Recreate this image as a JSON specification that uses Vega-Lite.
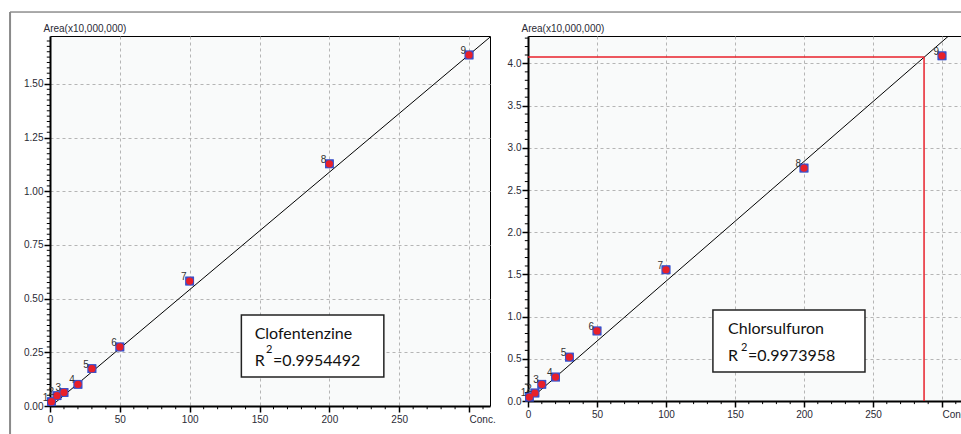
{
  "$schema": "https://vega.github.io/schema/vega-lite/v6.json",
  "padding": {"left": 8, "top": 10, "right": 0, "bottom": 0},
  "background": "white",
  "bounds": "flush",
  "spacing": 38,
  "datasets": {
    "clo": [
      {"n": "1", "conc": 1, "area": 0.02},
      {"n": "2", "conc": 5, "area": 0.048},
      {"n": "3", "conc": 10, "area": 0.063},
      {"n": "4", "conc": 20, "area": 0.101},
      {"n": "5", "conc": 30, "area": 0.174},
      {"n": "6", "conc": 50, "area": 0.275},
      {"n": "7", "conc": 100, "area": 0.582},
      {"n": "8", "conc": 200, "area": 1.128},
      {"n": "9", "conc": 300, "area": 1.635}
    ],
    "chl": [
      {"n": "1", "conc": 1, "area": 0.047},
      {"n": "2", "conc": 5, "area": 0.095},
      {"n": "3", "conc": 10, "area": 0.198},
      {"n": "4", "conc": 20, "area": 0.284},
      {"n": "5", "conc": 30, "area": 0.52},
      {"n": "6", "conc": 50, "area": 0.83},
      {"n": "7", "conc": 100, "area": 1.555},
      {"n": "8", "conc": 200, "area": 2.76},
      {"n": "9", "conc": 300, "area": 4.09}
    ],
    "cloLine": [{"conc": 0, "area": -0.005}, {"conc": 330, "area": 1.80}],
    "chlLine": [{"conc": 0, "area": 0.0}, {"conc": 330, "area": 4.683}],
    "xMinor": [{"v":10},{"v":20},{"v":30},{"v":40},{"v":60},{"v":70},{"v":80},{"v":90},{"v":110},{"v":120},{"v":130},{"v":140},{"v":160},{"v":170},{"v":180},{"v":190},{"v":210},{"v":220},{"v":230},{"v":240},{"v":260},{"v":270},{"v":280},{"v":290},{"v":310}],
    "yMinorL": [{"v":0.025},{"v":0.05},{"v":0.075},{"v":0.1},{"v":0.125},{"v":0.15},{"v":0.175},{"v":0.2},{"v":0.225},{"v":0.275},{"v":0.3},{"v":0.325},{"v":0.35},{"v":0.375},{"v":0.4},{"v":0.425},{"v":0.45},{"v":0.475},{"v":0.525},{"v":0.55},{"v":0.575},{"v":0.6},{"v":0.625},{"v":0.65},{"v":0.675},{"v":0.7},{"v":0.725},{"v":0.775},{"v":0.8},{"v":0.825},{"v":0.85},{"v":0.875},{"v":0.9},{"v":0.925},{"v":0.95},{"v":0.975},{"v":1.025},{"v":1.05},{"v":1.075},{"v":1.1},{"v":1.125},{"v":1.15},{"v":1.175},{"v":1.2},{"v":1.225},{"v":1.275},{"v":1.3},{"v":1.325},{"v":1.35},{"v":1.375},{"v":1.4},{"v":1.425},{"v":1.45},{"v":1.475},{"v":1.525},{"v":1.55},{"v":1.575},{"v":1.6},{"v":1.625},{"v":1.65},{"v":1.675},{"v":1.7}],
    "yMinorR": [{"v":0.1},{"v":0.2},{"v":0.3},{"v":0.4},{"v":0.6},{"v":0.7},{"v":0.8},{"v":0.9},{"v":1.1},{"v":1.2},{"v":1.3},{"v":1.4},{"v":1.6},{"v":1.7},{"v":1.8},{"v":1.9},{"v":2.1},{"v":2.2},{"v":2.3},{"v":2.4},{"v":2.6},{"v":2.7},{"v":2.8},{"v":2.9},{"v":3.1},{"v":3.2},{"v":3.3},{"v":3.4},{"v":3.6},{"v":3.7},{"v":3.8},{"v":3.9},{"v":4.1},{"v":4.2},{"v":4.3}],
    "one": [{}]
  },
  "config": {
    "view": {"fill": "#f9fafa", "stroke": "#000000", "strokeWidth": 1},
    "axis": {
      "labelFont": "Liberation Sans",
      "labelFontSize": 10,
      "labelColor": "#2a2a35",
      "titleFont": "Liberation Sans",
      "titleFontSize": 10,
      "titleFontWeight": "normal",
      "titleColor": "#2a2a35",
      "tickColor": "#000000",
      "tickSize": 6,
      "tickWidth": 1.5,
      "domainColor": "#000000",
      "domainWidth": 2,
      "grid": true,
      "gridColor": "#b5b5b5",
      "gridDash": [3, 3],
      "gridWidth": 1
    }
  },
  "hconcat": [
    {
      "width": 440,
      "height": 370,
      "layer": [
        {
          "data": {"name": "clo"},
          "mark": {"type": "square", "filled": true, "color": "#3b4fc8", "size": 76, "opacity": 1},
          "encoding": {
            "x": {
              "field": "conc", "type": "quantitative",
              "scale": {"domain": [0, 315], "nice": false, "zero": false},
              "axis": {
                "orient": "bottom",
                "values": [0, 50, 100, 150, 200, 250, 300],
                "labelExpr": "datum.value == 300 ? 'Conc.' : datum.label",
                "labelAlign": {"condition": {"test": "datum.value == 300", "value": "left"}, "value": "center"},
                "labelPadding": 2, "labelOverlap": false, "title": null
              }
            },
            "y": {
              "field": "area", "type": "quantitative",
              "scale": {"domain": [0, 1.7233], "nice": false, "zero": false},
              "axis": {
                "orient": "left",
                "values": [0, 0.25, 0.5, 0.75, 1, 1.25, 1.5],
                "format": ".2f",
                "labelPadding": 1, "labelOverlap": false,
                "title": "Area(x10,000,000)", "titleAngle": 0, "titleAlign": "left", "titleBaseline": "bottom",
                "titleX": -7, "titleY": -3
              }
            }
          }
        },
        {
          "data": {"name": "one"},
          "mark": {"type": "rule", "color": "#555555", "strokeWidth": 1, "clip": false},
          "encoding": {
            "x": {"datum": -28.6, "type": "quantitative"},
            "x2": {"datum": 700},
            "y": {"datum": 1.835, "type": "quantitative"}
          }
        },
        {
          "data": {"name": "one"},
          "mark": {"type": "rule", "color": "#8a8a8a", "strokeWidth": 2, "clip": false},
          "encoding": {
            "x": {"datum": -28.6, "type": "quantitative"},
            "y": {"datum": -0.15, "type": "quantitative"},
            "y2": {"datum": 1.835}
          }
        },
        {
          "data": {"name": "yMinorL"},
          "mark": {"type": "rule", "color": "#000000", "strokeWidth": 1, "clip": false},
          "encoding": {
            "x": {"datum": -2.3, "type": "quantitative"},
            "x2": {"datum": 0},
            "y": {"field": "v", "type": "quantitative"}
          }
        },
        {
          "data": {"name": "xMinor"},
          "mark": {"type": "rule", "color": "#000000", "strokeWidth": 1, "clip": false},
          "encoding": {
            "x": {"field": "v", "type": "quantitative"},
            "y": {"datum": -0.015, "type": "quantitative"},
            "y2": {"datum": 0}
          }
        },
        {
          "data": {"name": "cloLine"},
          "mark": {"type": "line", "color": "#000000", "strokeWidth": 1, "clip": true},
          "encoding": {
            "x": {"field": "conc", "type": "quantitative"},
            "y": {"field": "area", "type": "quantitative"}
          }
        },
        {
          "data": {"name": "one"},
          "mark": {"type": "rect", "fill": "white", "stroke": "#222222", "strokeWidth": 1.5},
          "encoding": {
            "x": {"datum": 137, "type": "quantitative"},
            "x2": {"datum": 239},
            "y": {"datum": 0.135, "type": "quantitative"},
            "y2": {"datum": 0.424}
          }
        },
        {
          "data": {"name": "one"},
          "mark": {"type": "text", "text": "Clofentenzine", "font": "Lato", "fontSize": 16, "align": "left", "baseline": "alphabetic", "color": "#111111"},
          "encoding": {
            "x": {"datum": 146.5, "type": "quantitative"},
            "y": {"datum": 0.312, "type": "quantitative"}
          }
        },
        {
          "data": {"name": "one"},
          "mark": {"type": "text", "text": "R", "font": "Lato", "fontSize": 16, "align": "left", "baseline": "alphabetic", "color": "#111111"},
          "encoding": {
            "x": {"datum": 146.5, "type": "quantitative"},
            "y": {"datum": 0.186, "type": "quantitative"}
          }
        },
        {
          "data": {"name": "one"},
          "mark": {"type": "text", "text": "2", "font": "Lato", "fontSize": 11, "align": "left", "baseline": "alphabetic", "color": "#111111"},
          "encoding": {
            "x": {"datum": 154.7, "type": "quantitative"},
            "y": {"datum": 0.247, "type": "quantitative"}
          }
        },
        {
          "data": {"name": "one"},
          "mark": {"type": "text", "text": "=0.9954492", "font": "Lato", "fontSize": 16, "align": "left", "baseline": "alphabetic", "color": "#111111"},
          "encoding": {
            "x": {"datum": 159.7, "type": "quantitative"},
            "y": {"datum": 0.186, "type": "quantitative"}
          }
        },
        {
          "data": {"name": "clo"},
          "mark": {"type": "square", "filled": true, "color": "#3b4fc8", "size": 76, "opacity": 1},
          "encoding": {
            "x": {"field": "conc", "type": "quantitative"},
            "y": {"field": "area", "type": "quantitative"}
          }
        },
        {
          "data": {"name": "clo"},
          "mark": {"type": "circle", "color": "#e8202a", "size": 52, "opacity": 1},
          "encoding": {
            "x": {"field": "conc", "type": "quantitative"},
            "y": {"field": "area", "type": "quantitative"}
          }
        },
        {
          "data": {"name": "clo"},
          "mark": {"type": "text", "font": "Liberation Sans", "fontSize": 10, "color": "#333333", "align": "right", "baseline": "alphabetic", "dx": -3, "dy": -1},
          "encoding": {
            "x": {"field": "conc", "type": "quantitative"},
            "y": {"field": "area", "type": "quantitative"},
            "text": {"field": "n"}
          }
        }
      ]
    },
    {
      "width": 434,
      "height": 365,
      "layer": [
        {
          "data": {"name": "chl"},
          "mark": {"type": "square", "filled": true, "color": "#3b4fc8", "size": 76, "opacity": 1},
          "encoding": {
            "x": {
              "field": "conc", "type": "quantitative",
              "scale": {"domain": [0, 314.5], "nice": false, "zero": false},
              "axis": {
                "orient": "bottom",
                "values": [0, 50, 100, 150, 200, 250, 300],
                "labelExpr": "datum.value == 300 ? 'Conc.' : datum.label",
                "labelAlign": {"condition": {"test": "datum.value == 300", "value": "left"}, "value": "center"},
                "labelPadding": 2, "labelOverlap": false, "title": null
              }
            },
            "y": {
              "field": "area", "type": "quantitative",
              "scale": {"domain": [0, 4.325], "nice": false, "zero": false},
              "axis": {
                "orient": "left",
                "values": [0, 0.5, 1, 1.5, 2, 2.5, 3, 3.5, 4],
                "format": ".1f",
                "labelPadding": 1, "labelOverlap": false,
                "title": "Area(x10,000,000)", "titleAngle": 0, "titleAlign": "left", "titleBaseline": "bottom",
                "titleX": -7, "titleY": -3
              }
            }
          }
        },
        {
          "data": {"name": "yMinorR"},
          "mark": {"type": "rule", "color": "#000000", "strokeWidth": 1, "clip": false},
          "encoding": {
            "x": {"datum": -2.3, "type": "quantitative"},
            "x2": {"datum": 0},
            "y": {"field": "v", "type": "quantitative"}
          }
        },
        {
          "data": {"name": "xMinor"},
          "mark": {"type": "rule", "color": "#000000", "strokeWidth": 1, "clip": false},
          "encoding": {
            "x": {"field": "v", "type": "quantitative"},
            "y": {"datum": -0.037, "type": "quantitative"},
            "y2": {"datum": 0}
          }
        },
        {
          "data": {"name": "chlLine"},
          "mark": {"type": "line", "color": "#000000", "strokeWidth": 1, "clip": true},
          "encoding": {
            "x": {"field": "conc", "type": "quantitative"},
            "y": {"field": "area", "type": "quantitative"}
          }
        },
        {
          "data": {"name": "one"},
          "mark": {"type": "rule", "color": "#e8202a", "strokeWidth": 1.5},
          "encoding": {
            "x": {"datum": 0, "type": "quantitative"},
            "x2": {"datum": 287},
            "y": {"datum": 4.076, "type": "quantitative"}
          }
        },
        {
          "data": {"name": "one"},
          "mark": {"type": "rule", "color": "#e8202a", "strokeWidth": 1.5},
          "encoding": {
            "x": {"datum": 287, "type": "quantitative"},
            "y": {"datum": 0, "type": "quantitative"},
            "y2": {"datum": 4.076}
          }
        },
        {
          "data": {"name": "one"},
          "mark": {"type": "rect", "fill": "white", "stroke": "#222222", "strokeWidth": 1.5},
          "encoding": {
            "x": {"datum": 134, "type": "quantitative"},
            "x2": {"datum": 244.2},
            "y": {"datum": 0.344, "type": "quantitative"},
            "y2": {"datum": 1.078}
          }
        },
        {
          "data": {"name": "one"},
          "mark": {"type": "text", "text": "Chlorsulfuron", "font": "Lato", "fontSize": 16, "align": "left", "baseline": "alphabetic", "color": "#111111"},
          "encoding": {
            "x": {"datum": 145, "type": "quantitative"},
            "y": {"datum": 0.79, "type": "quantitative"}
          }
        },
        {
          "data": {"name": "one"},
          "mark": {"type": "text", "text": "R", "font": "Lato", "fontSize": 16, "align": "left", "baseline": "alphabetic", "color": "#111111"},
          "encoding": {
            "x": {"datum": 145, "type": "quantitative"},
            "y": {"datum": 0.474, "type": "quantitative"}
          }
        },
        {
          "data": {"name": "one"},
          "mark": {"type": "text", "text": "2", "font": "Lato", "fontSize": 11, "align": "left", "baseline": "alphabetic", "color": "#111111"},
          "encoding": {
            "x": {"datum": 154.3, "type": "quantitative"},
            "y": {"datum": 0.592, "type": "quantitative"}
          }
        },
        {
          "data": {"name": "one"},
          "mark": {"type": "text", "text": "=0.9973958", "font": "Lato", "fontSize": 16, "align": "left", "baseline": "alphabetic", "color": "#111111"},
          "encoding": {
            "x": {"datum": 159.4, "type": "quantitative"},
            "y": {"datum": 0.474, "type": "quantitative"}
          }
        },
        {
          "data": {"name": "chl"},
          "mark": {"type": "square", "filled": true, "color": "#3b4fc8", "size": 76, "opacity": 1},
          "encoding": {
            "x": {"field": "conc", "type": "quantitative"},
            "y": {"field": "area", "type": "quantitative"}
          }
        },
        {
          "data": {"name": "chl"},
          "mark": {"type": "circle", "color": "#e8202a", "size": 52, "opacity": 1},
          "encoding": {
            "x": {"field": "conc", "type": "quantitative"},
            "y": {"field": "area", "type": "quantitative"}
          }
        },
        {
          "data": {"name": "chl"},
          "mark": {"type": "text", "font": "Liberation Sans", "fontSize": 10, "color": "#333333", "align": "right", "baseline": "alphabetic", "dx": -3, "dy": -1},
          "encoding": {
            "x": {"field": "conc", "type": "quantitative"},
            "y": {"field": "area", "type": "quantitative"},
            "text": {"field": "n"}
          }
        }
      ]
    }
  ]
}
